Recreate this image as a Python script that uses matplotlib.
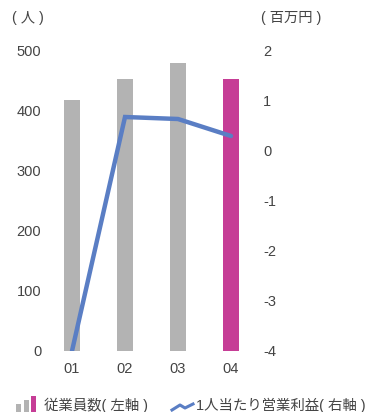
import matplotlib
matplotlib.use("Agg")
import matplotlib.pyplot as plt
from matplotlib.patches import Rectangle
from matplotlib.lines import Line2D

plt.rcParams['font.family'] = ['Liberation Sans', 'Noto Sans CJK JP', 'DejaVu Sans']

categories = ["01", "02", "03", "04"]
employees = [418, 453, 480, 453]
profit_per_person = [-4.0, 0.68, 0.64, 0.30]
left_ticks = [0, 100, 200, 300, 400, 500]
right_ticks = [-4, -3, -2, -1, 0, 1, 2]
bar_colors = ["#b3b3b3", "#b3b3b3", "#b3b3b3", "#c63d96"]
line_color = "#5a7ec4"
text_color = "#444444"

W, H = 369, 412
fig = plt.figure(figsize=(W / 100, H / 100), dpi=100)
ax = fig.add_axes([45.5 / W, 1 - 351 / H, 212 / W, 300 / H])
x = list(range(len(categories)))
ax.bar(x, employees, width=0.3, color=bar_colors, zorder=1)
ax.set_xlim(-0.5, 3.5)
ax.set_ylim(0, 500)
ax.set_yticks(left_ticks)
ax.set_xticks(x)
ax.set_xticklabels(categories)
for s in ax.spines.values():
    s.set_visible(False)
ax.tick_params(axis='both', length=0, labelsize=10.5, colors=text_color)
ax.tick_params(axis='y', pad=3)
ax.tick_params(axis='x', pad=8)

ax2 = ax.twinx()
ax2.plot(x, profit_per_person, color=line_color, lw=3.2, solid_capstyle='round',
         solid_joinstyle='miter', zorder=3)
ax2.set_ylim(-4, 2)
ax2.set_yticks(right_ticks)
ax2.set_yticklabels([str(t) for t in right_ticks])
for s in ax2.spines.values():
    s.set_visible(False)
ax2.tick_params(axis='y', length=0, labelsize=10.5, colors=text_color, pad=4)

fig.text(12 / W, 1 - 18 / H, "( 人 )", fontsize=10.3, color=text_color, va='center', ha='left')
fig.text(261 / W, 1 - 18 / H, "( 百万円 )", fontsize=10.3, color=text_color, va='center', ha='left')

# legend (manual)
def px(xp, yp):
    return (xp / W, 1 - yp / H)

for (x0, x1, ytop, c) in [(16, 21, 404, "#b3b3b3"), (24, 29, 400, "#b3b3b3"), (31, 36, 396, "#c63d96")]:
    fig.add_artist(Rectangle(px(x0, 412), (x1 - x0) / W, (412 - ytop) / H,
                             transform=fig.transFigure, color=c, lw=0))
fig.text(44 / W, 1 - 405 / H, "従業員数( 左軸 )", fontsize=10.4, color=text_color, va='center', ha='left')
lx = [172, 180, 185, 193]
ly = [410, 405, 408, 404]
fig.add_artist(Line2D([v / W for v in lx], [1 - v / H for v in ly], transform=fig.transFigure,
                      color=line_color, lw=2.2))
fig.text(196 / W, 1 - 405 / H, "1人当たり営業利益( 右軸 )", fontsize=10.4, color=text_color, va='center', ha='left')

fig.savefig("out.png", dpi=100)
